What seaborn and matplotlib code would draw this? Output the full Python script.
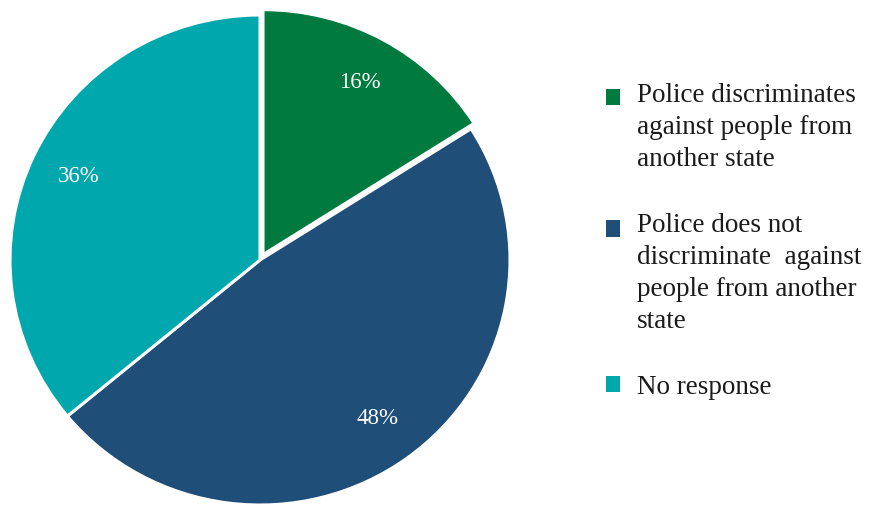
import matplotlib
matplotlib.use("Agg")
import matplotlib.pyplot as plt
import seaborn as sns

# data
labels = ["Police discriminates\nagainst people from\nanother state",
          "Police does not\ndiscriminate  against\npeople from another\nstate",
          "No response"]
shares = [16, 48, 36]
colors = ["#007A3E", "#1F4E79", "#00A8AE"]
explode = [0.025, 0, 0]

sns.set_theme(style="white")
plt.rcParams["font.family"] = ["Liberation Serif", "DejaVu Serif"]

W, H = 872, 505
fig = plt.figure(figsize=(W / 100, H / 100), dpi=100)

# pie axes: centre (260, 260) px from top-left, slightly wider than tall
cx, cy, rx, ry = 260, 260, 250, 245
ax = fig.add_axes([(cx - rx) / W, (H - cy - ry) / H, 2 * rx / W, 2 * ry / H])
wedges, texts, autotexts = ax.pie(
    shares, colors=colors, explode=explode, startangle=90, counterclock=False,
    autopct="%d%%", pctdistance=0.8,
    wedgeprops=dict(edgecolor="white", linewidth=2.2),
    textprops=dict(color="white", fontsize=16.5))
ax.set_xlim(-1, 1)
ax.set_ylim(-1, 1)
ax.set_aspect("auto")
ax.axis("off")

fs = 19.5
ls = 1.38
leg = fig.legend(wedges, labels, loc="upper left",
                 bbox_to_anchor=(592 / W, 1 - 69 / H), frameon=False,
                 fontsize=fs, handlelength=0.55, handleheight=0.55,
                 handletextpad=0.6, labelspacing=1.5, borderpad=0)
for t in leg.get_texts():
    t.set_color("#1a1a1a")
    t.set_linespacing(ls)
# align each square marker with the first line of its label
for h, lab in zip(leg.legend_handles, labels):
    n = lab.count("\n")
    h.set_y(h.get_y() + n * fs * ls * 0.8 / 2)
    h.set_linewidth(0)

fig.savefig("out.png", dpi=100)
